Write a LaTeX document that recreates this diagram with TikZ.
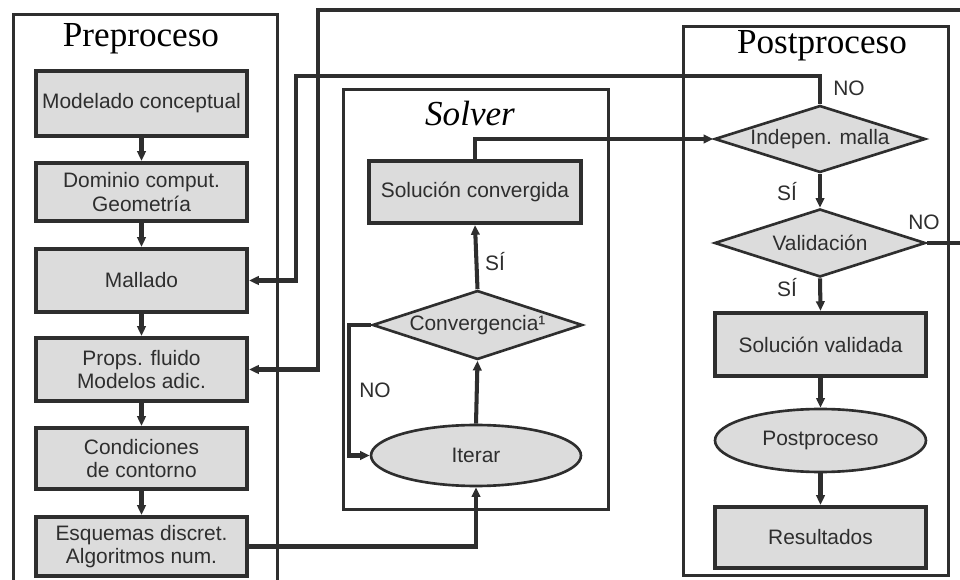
\documentclass[tikz,border=0pt]{standalone}
\usepackage{fontspec}
\setmainfont{Liberation Sans}
\newfontfamily\titlefont{Liberation Serif}
\usetikzlibrary{shapes.geometric,arrows.meta}
\definecolor{ink}{HTML}{2E2E2E}
\definecolor{boxfill}{HTML}{DCDCDC}
\begin{document}
\begin{tikzpicture}[x=0.02cm,y=-0.02cm,
  every node/.style={font=\fontsize{11.9}{13.5}\selectfont, text=ink},
  frame/.style={draw=ink,line width=2.2pt},
  stepbox/.style={draw=ink, fill=boxfill, line width=2.4pt, minimum width=4.22cm, align=center, inner sep=0pt},
  decision/.style={diamond, draw=ink, fill=boxfill, line width=1.5pt, minimum width=4.22cm, inner sep=0pt, shape aspect=3},
  oval/.style={ellipse, draw=ink, fill=boxfill, line width=1.5pt, minimum width=4.22cm, inner sep=0pt},
  conn/.style={draw=ink, line width=2.3pt},
  arr/.style={conn, -{Triangle[length=5.5pt,width=4.8pt]}},
  title/.style={font=\titlefont\fontsize{20}{24}\selectfont, text=black},
  lbl/.style={inner sep=0pt}
]
\useasboundingbox (0,0) rectangle (960,580);
\fill[white] (0,0) rectangle (960,580);
\clip (0,0) rectangle (960,580);

% frames
\draw[frame] (13.5,14.5) rectangle (277.5,620);
\draw[frame] (343.5,89.5) rectangle (608.5,509.5);
\draw[frame] (683.5,26.5) rectangle (948.5,575.5);

% titles
\node[title] (tpre) at (141,39) {Preproceso};
\node[title, font=\titlefont\itshape\fontsize{20}{24}\selectfont] (tsol) at (470,113) {Solver};
\node[title] (tpost) at (822,46) {Postproceso};

% Preproceso
\node[stepbox, minimum height=1.30cm] (pm1) at (141.5,103.5) {Modelado conceptual};
\node[stepbox, minimum height=1.16cm] (pm2) at (141.5,192) {Dominio comput.\\Geometría};
\node[stepbox, minimum height=1.26cm] (pm3) at (141.5,280.5) {Mallado};
\node[stepbox, minimum height=1.26cm] (pm4) at (141.5,369.5) {Props. fluido\\Modelos adic.};
\node[stepbox, minimum height=1.22cm] (pm5) at (141.5,458.5) {Condiciones\\de contorno};
\node[stepbox, minimum height=1.18cm] (pm6) at (141.5,546.5) {Esquemas discret.\\Algoritmos num.};

% Solver
\node[stepbox, minimum width=4.24cm, minimum height=1.24cm] (solc) at (475,192) {Solución convergida};
\node[decision, minimum width=4.2cm, minimum height=1.38cm] (conv) at (477.5,325) {Convergencia¹};
\node[oval, minimum width=4.2cm, minimum height=1.22cm] (iter) at (476,455.5) {Iterar};

% Postproceso
\node[decision, minimum height=1.34cm] (ind) at (820,139) {Indepen. malla};
\node[decision, minimum height=1.36cm] (val) at (820,243) {Validación};
\node[stepbox, minimum height=1.26cm] (solv) at (820.5,344.5) {Solución validada};
\node[oval, minimum height=1.26cm] (post) at (820.5,440.5) {Postproceso};
\node[stepbox, minimum height=1.22cm] (res) at (820.5,537.5) {Resultados};

% labels
\node[lbl] (lno1) at (849,88) {NO};
\node[lbl] (lsi1) at (787,192) {SÍ};
\node[lbl] (lno2) at (924,222) {NO};
\node[lbl] (lsi2) at (787,288) {SÍ};
\node[lbl] (lsi3) at (495,262) {SÍ};
\node[lbl] (lno3) at (375,390) {NO};

% coordinates for routing
\coordinate (c76) at (296,76);
\coordinate (vr) at (980,10);
\coordinate (vl) at (318,10);

% connectors
\draw[arr] (pm1.south) -- (pm2.north);
\draw[arr] (pm2.south) -- (pm3.north);
\draw[arr] (pm3.south) -- (pm4.north);
\draw[arr] (pm4.south) -- (pm5.north);
\draw[arr] (pm5.south) -- (pm6.north);

\draw[arr] (ind.north) |- (c76) |- (pm3.east);
\draw[arr] (val.east) -| (vr) -- (vl) |- (pm4.east);
\draw[arr] (pm6.east) -| (iter.south);
\draw[arr] (solc.north) |- (ind.west);

\draw[arr] (conv.north) -- (solc.south);
\draw[arr] (iter.north) -- (conv.south);
\draw[arr] (conv.west) -- ++(-22,0) |- (iter.west);

\draw[arr] (ind.south) -- (val.north);
\draw[arr] (val.south) -- (solv.north);
\draw[arr] (solv.south) -- (post.north);
\draw[arr] (post.south) -- (res.north);
\end{tikzpicture}
\end{document}
